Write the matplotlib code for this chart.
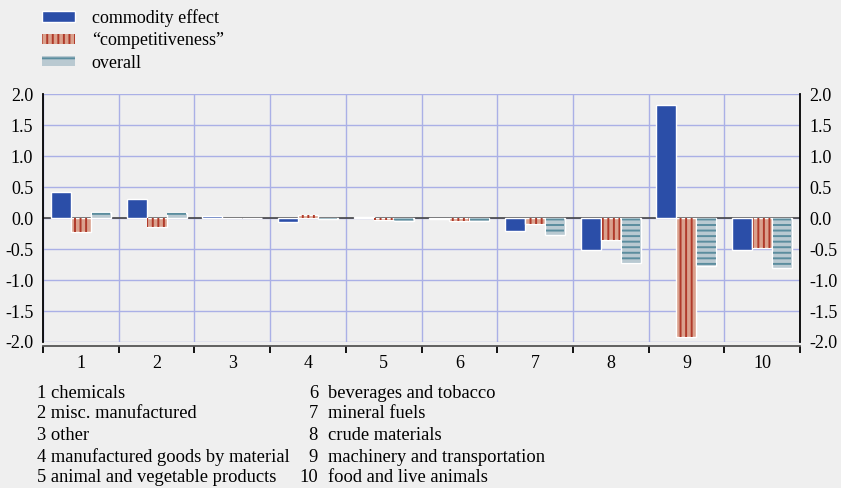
import matplotlib
matplotlib.use("Agg")
import matplotlib.pyplot as plt
import numpy as np
from matplotlib.patches import Patch

categories = ["1", "2", "3", "4", "5", "6", "7", "8", "9", "10"]
commodity_effect = [0.42, 0.31, 0.035, -0.065, 0.02, -0.01, -0.20, -0.52, 1.83, -0.52]
competitiveness = [-0.22, -0.15, 0.0, 0.055, -0.03, -0.05, -0.10, -0.36, -1.92, -0.48]
overall = [0.10, 0.09, 0.0, -0.01, -0.04, -0.04, -0.27, -0.72, -0.78, -0.81]
series_names = ["commodity effect", "\u201ccompetitiveness\u201d", "overall"]
yticks = [2.0, 1.5, 1.0, 0.5, 0.0, -0.5, -1.0, -1.5, -2.0]
notes_left = ["1 chemicals", "2 misc. manufactured", "3 other",
              "4 manufactured goods by material", "5 animal and vegetable products"]
notes_right_num = ["6", "7", "8", "9", "10"]
notes_right_txt = ["beverages and tobacco", "mineral fuels", "crude materials",
                   "machinery and transportation", "food and live animals"]

BG = "#efefef"
BLUE = "#2b4ea8"
RED_FILL = "#daa18d"
RED_LINE = "#b03a2a"
GREY_FILL = "#b9c9d1"
GREY_LINE = "#5b8d9e"
GRID = "#aab0e6"

plt.rcParams["font.family"] = ["Liberation Serif", "DejaVu Serif"]
plt.rcParams["hatch.linewidth"] = 1.4

W, H = 841, 488
fig = plt.figure(figsize=(W / 100, H / 100), dpi=100, facecolor=BG)
ax = fig.add_axes([43 / W, (H - 342) / H, 757 / W, 247.7 / H], facecolor=BG)

x = np.arange(len(categories))
bw = 0.264
offsets = [-bw, 0.0, bw]

# solid commodity-effect bars
ax.bar(x + offsets[0], commodity_effect, width=bw, color=BLUE,
       edgecolor="white", linewidth=1.0, zorder=3)
# striped competitiveness bars: fill, then stripes on top
ax.bar(x + offsets[1], competitiveness, width=bw, color=RED_FILL,
       edgecolor="white", linewidth=1.0, zorder=3)
ax.bar(x + offsets[1], competitiveness, width=bw * 0.92, color="none",
       edgecolor=RED_LINE, hatch="|||", linewidth=0, zorder=4)
# striped overall bars
ax.bar(x + offsets[2], overall, width=bw, color=GREY_FILL,
       edgecolor="white", linewidth=1.0, zorder=3)
ax.bar(x + offsets[2], overall, width=bw * 0.92, color="none",
       edgecolor=GREY_LINE, hatch="---", linewidth=0, zorder=4)

ax.axhline(0, color="#444444", linewidth=1.2, zorder=2)

ax.set_xlim(-0.5, len(categories) - 0.5)
ax.set_ylim(-2.0, 2.0)
ax.set_yticks(yticks)
ax.set_yticklabels([f"{v:.1f}" for v in yticks])
ax.tick_params(axis="y", which="both", left=False, right=False, length=0,
               labelleft=True, labelright=True, labelsize=13, pad=7)

# category boundaries as ticks/gridlines, labels at centres
ax.set_xticks(np.arange(len(categories) + 1) - 0.5)
ax.set_xticklabels([])
ax.set_xticks(x, minor=True)
ax.set_xticklabels(categories, minor=True)
ax.tick_params(axis="x", which="major", direction="out", length=5,
               width=1.3, color="black", bottom=True)
ax.tick_params(axis="x", which="minor", length=0, pad=6, labelsize=13)

ax.grid(True, which="major", color=GRID, linewidth=1.0, zorder=0)
ax.set_axisbelow(True)

ax.spines["top"].set_visible(False)
for side in ["left", "right"]:
    ax.spines[side].set_color("black")
    ax.spines[side].set_linewidth(1.3)
ax.spines["bottom"].set_color("#555555")
ax.spines["bottom"].set_linewidth(1.3)
ax.spines["bottom"].set_position(("outward", 3))

handles = [
    Patch(facecolor=BLUE, edgecolor="white"),
    Patch(facecolor=RED_FILL, edgecolor=RED_LINE, hatch="|||", linewidth=0),
    Patch(facecolor=GREY_FILL, edgecolor=GREY_LINE, hatch="-", linewidth=0),
]
fig.legend(handles, series_names, loc="upper left",
           bbox_to_anchor=(42 / W, 1 - 9 / H), frameon=False, fontsize=13,
           handlelength=1.85, handleheight=0.5, handletextpad=0.9,
           labelspacing=0.3, borderpad=0.0, borderaxespad=0.0)

# category key under the chart
line_y = [393, 414, 435, 457, 478]
for yy, t in zip(line_y, notes_left):
    fig.text(37 / W, 1 - yy / H, t, fontsize=13.3, va="center", ha="left")
for yy, n, t in zip(line_y, notes_right_num, notes_right_txt):
    fig.text(318 / W, 1 - yy / H, n, fontsize=13.3, va="center", ha="right")
    fig.text(328 / W, 1 - yy / H, t, fontsize=13.3, va="center", ha="left")

fig.savefig("out.png", dpi=100, facecolor=BG)
